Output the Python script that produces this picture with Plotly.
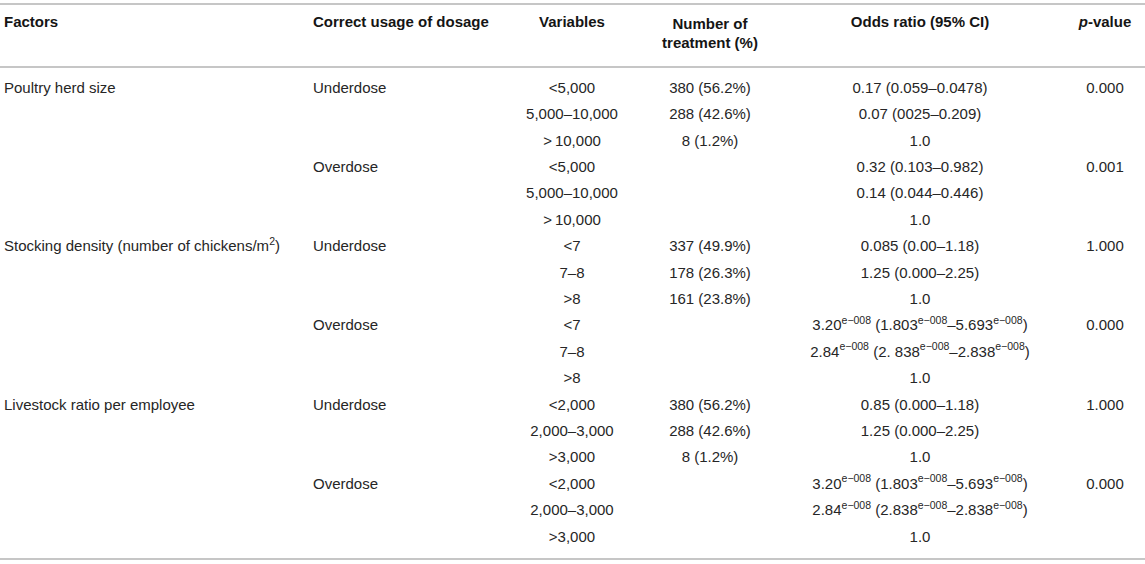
import plotly.graph_objects as go

# table content
header_labels = [
    "Factors",
    "Correct usage of dosage",
    "Variables",
    "Number of<br>treatment (%)",
    "Odds ratio (95% CI)",
    "<i>p</i>-value",
]
factor_names = [
    "Poultry herd size",
    "Stocking density (number of chickens/m<sup>2</sup>)",
    "Livestock ratio per employee",
]
dosage_groups = ["Underdose", "Overdose"]
variable_levels = [
    ["&lt;5,000", "5,000–10,000", "&gt;\u200910,000"],
    ["&lt;7", "7–8", "&gt;8"],
    ["&lt;2,000", "2,000–3,000", "&gt;3,000"],
]
treatment_counts = [
    ["380 (56.2%)", "288 (42.6%)", "8 (1.2%)"],
    ["337 (49.9%)", "178 (26.3%)", "161 (23.8%)"],
    ["380 (56.2%)", "288 (42.6%)", "8 (1.2%)"],
]
odds_underdose = [
    ["0.17 (0.059–0.0478)", "0.07 (0025–0.209)", "1.0"],
    ["0.085 (0.00–1.18)", "1.25 (0.000–2.25)", "1.0"],
    ["0.85 (0.000–1.18)", "1.25 (0.000–2.25)", "1.0"],
]
odds_overdose = [
    ["0.32 (0.103–0.982)", "0.14 (0.044–0.446)", "1.0"],
    ["3.20<sup>e−008</sup> (1.803<sup>e−008</sup>–5.693<sup>e−008</sup>)",
     "2.84<sup>e−008</sup> (2. 838<sup>e−008</sup>–2.838<sup>e−008</sup>)", "1.0"],
    ["3.20<sup>e−008</sup> (1.803<sup>e−008</sup>–5.693<sup>e−008</sup>)",
     "2.84<sup>e−008</sup> (2.838<sup>e−008</sup>–2.838<sup>e−008</sup>)", "1.0"],
]
p_underdose = ["0.000", "1.000", "1.000"]
p_overdose = ["0.001", "0.000", "0.000"]

# flatten into table columns
col_factor, col_dosage, col_var, col_treat, col_odds, col_p = [], [], [], [], [], []
for i, factor in enumerate(factor_names):
    for g, dosage in enumerate(dosage_groups):
        for k, level in enumerate(variable_levels[i]):
            col_factor.append(factor if g == 0 and k == 0 else "")
            col_dosage.append(dosage if k == 0 else "")
            col_var.append(level)
            if g == 0:
                col_treat.append(treatment_counts[i][k])
                col_odds.append(odds_underdose[i][k])
                col_p.append(p_underdose[i] if k == 0 else "")
            else:
                col_treat.append("")
                col_odds.append(odds_overdose[i][k])
                col_p.append(p_overdose[i] if k == 0 else "")
columns = [col_factor, col_dosage, col_var, col_treat, col_odds, col_p]
n_rows = len(col_var)
rows = list(range(n_rows))

# layout: column anchors (px on a 0..W axis) and text alignment
W, H = 1145, 564
column_x = [4, 313, 572, 710, 920, 1105]
column_pos = ["middle right", "middle right", "middle center",
              "middle center", "middle center", "middle center"]
row_px, first_row_px = 26.4, 89
font_family = "Liberation Sans, Arial, Helvetica, sans-serif"

fig = go.Figure()
for x, pos, values in zip(column_x, column_pos, columns):
    fig.add_trace(go.Scatter(
        x=[x] * n_rows, y=rows, text=values,
        mode="text", textposition=pos, hoverinfo="skip",
        textfont=dict(family=font_family, size=15, color="#262626"),
        showlegend=False,
    ))

# header row sits 2.5 rows above the first data row (two-line labels centred lower)
header_y = [-2.5 if "<br>" not in h else -2.05 for h in header_labels]
for x, pos, label, hy in zip(column_x, column_pos, header_labels, header_y):
    fig.add_trace(go.Scatter(
        x=[x], y=[hy], text=[f"<b>{label}</b>"],
        mode="text", textposition=pos, hoverinfo="skip",
        textfont=dict(family=font_family, size=15, color="#151515"),
        showlegend=False,
    ))

# horizontal rules: top, under header, bottom (px from top)
for y_px in [4, 67, 559]:
    fig.add_shape(
        type="line", xref="paper", yref="paper",
        x0=0, x1=1, y0=1 - y_px / H, y1=1 - y_px / H,
        line=dict(color="#b3b3b3", width=1.6),
    )

y_top = -first_row_px / row_px
y_bottom = (H - first_row_px) / row_px
fig.update_layout(
    width=W,
    height=H,
    margin=dict(l=0, r=0, t=0, b=0),
    paper_bgcolor="white",
    plot_bgcolor="white",
    xaxis=dict(range=[0, W], visible=False, fixedrange=True),
    yaxis=dict(range=[y_bottom, y_top], visible=False, fixedrange=True),
)
# drop the browser's default body margin so the figure sits at the page corner
fig.write_html(
    "out.html",
    config={"displayModeBar": False},
    post_script="document.body.style.margin = '0';",
)
